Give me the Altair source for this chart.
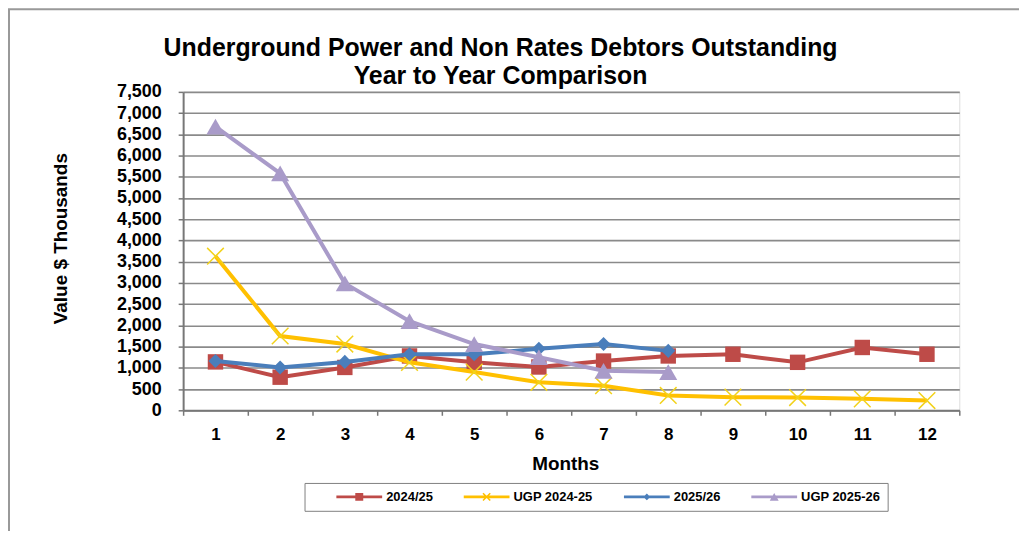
import altair as alt
import pandas as pd

# ---------------- data ----------------
months = list(range(1, 13))
series_names = ["2024/25", "UGP 2024-25", "2025/26", "UGP 2025-26"]
val_2024_25 = [1140, 780, 1010, 1280, 1130, 1020, 1160, 1280, 1320, 1130, 1480, 1320]
val_ugp_2024_25 = [3630, 1750, 1560, 1130, 900, 660, 580, 350, 310, 300, 270, 230]
val_2025_26 = [1160, 1010, 1140, 1320, 1320, 1450, 1560, 1400]
val_ugp_2025_26 = [6680, 5580, 2990, 2100, 1560, 1250, 930, 900]
y_ticks = list(range(0, 7501, 500))
x_ticks = [0.5 + 0.5 * i for i in range(25)]

title_lines = ["Underground Power and Non Rates Debtors Outstanding", "Year to Year Comparison"]

# ---------------- style ----------------
colors = ["#BE4B48", "#FFC000", "#4A7EBB", "#A99BC9"]
marker_colors = ["#BE4B48", "#F2D21B", "#4A7EBB", "#A99BC9"]
FONT = "Liberation Sans"

all_vals = [val_2024_25, val_ugp_2024_25, val_2025_26, val_ugp_2025_26]
rows = []
for i, (name, vals) in enumerate(zip(series_names, all_vals)):
    for m, v in zip(months, vals):
        rows.append({"month": m, "series": name, "value": v, "idx": i})
df = pd.DataFrame(rows)


def rect(x1, y1, x2, y2):
    return f"M{x1},{y1}H{x2}V{y2}H{x1}Z"


# legend symbol paths (units: sqrt(symbolSize)/2 px)
L0, L1, CX = 2.571, 9.143, 5.857
line_p = rect(L0, -0.214, L1, 0.214)
sq_p = rect(CX - 0.571, -0.571, CX + 0.571, 0.571)
dia_p = f"M{CX},-0.5L{CX + 0.5},0L{CX},0.5L{CX - 0.5},0Z"
tri_p = f"M{CX},-0.571L{CX + 0.643},0.571L{CX - 0.643},0.571Z"
s, t = 0.6, 0.16
x_p = (f"M{CX - s + t},{-s}L{CX + s},{s - t}L{CX + s - t},{s}L{CX - s},{-s + t}Z"
       f"M{CX - s + t},{s}L{CX - s},{s - t}L{CX + s - t},{-s}L{CX + s},{-s + t}Z")
legend_paths = [line_p + sq_p, line_p + x_p, line_p + dia_p, line_p + tri_p]

x_enc = alt.X(
    "month:Q",
    scale=alt.Scale(domain=[0.5, 12.5], nice=False, zero=False),
    axis=alt.Axis(
        values=x_ticks,
        labelExpr="datum.value % 1 == 0 ? format(datum.value, 'd') : ''",
        tickOpacity={"condition": {"test": "datum.value % 1 == 0", "value": 0}, "value": 1},
        labelFlush=False,
        labelOverlap=False,
        grid=False,
        tickSize=5,
        tickWidth=1.5,
        tickColor="#777777",
        domainColor="#777777",
        domainWidth=2,
        labelFont=FONT,
        labelFontSize=17,
        labelFontWeight="bold",
        labelColor="black",
        labelPadding=11,
        title="Months",
        titleFont=FONT,
        titleFontSize=19,
        titleFontWeight="bold",
        titleColor="black",
        titleX=384,
        titleY=59,
        titleBaseline="alphabetic",
    ),
)
y_enc = alt.Y(
    "value:Q",
    scale=alt.Scale(domain=[0, 7500], nice=False),
    axis=alt.Axis(
        values=y_ticks,
        labelExpr="format(datum.value, ',d')",
        grid=True,
        gridColor="#8A8A8A",
        gridWidth=1.6,
        tickSize=5,
        tickWidth=1.5,
        tickColor="#777777",
        domainColor="#777777",
        domainWidth=2,
        labelFont=FONT,
        labelFontSize=18,
        labelFontWeight="bold",
        labelColor="black",
        labelPadding=17,
        title="Value $ Thousands",
        titleFont=FONT,
        titleFontSize=19,
        titleFontWeight="bold",
        titleColor="black",
        titleX=-117,
        titleY=147,
        titleBaseline="alphabetic",
    ),
)

base = alt.Chart(df)
layers = []

frame = alt.Chart(pd.DataFrame({"a": [0]})).mark_rect(
    fillOpacity=0, stroke="#999999", strokeWidth=2
).encode(x=alt.value(-175), x2=alt.value(1100), y=alt.value(-83), y2=alt.value(700))
layers.append(frame)

marker_specs = [
    dict(shape="square", size=240, filled=True),
    dict(shape="M-1,-1L1,1M-1,1L1,-1", size=280, filled=False, strokeWidth=1.5),
    dict(shape="diamond", size=200, filled=True),
    dict(shape="triangle-up", size=330, filled=True),
]

for i, name in enumerate(series_names):
    sub = base.transform_filter(alt.datum.idx == i)
    layers.append(sub.mark_line(color=colors[i], strokeWidth=4).encode(x=x_enc, y=y_enc))
    spec = dict(marker_specs[i])
    filled = spec.pop("filled")
    if filled:
        pts = sub.mark_point(fill=marker_colors[i], filled=True, opacity=1, strokeWidth=0, **spec)
    else:
        pts = sub.mark_point(stroke=marker_colors[i], filled=False, opacity=1, **spec)
    layers.append(pts.encode(x=x_enc, y=y_enc))

legend = alt.Legend(
    title=None,
    orient="none",
    legendX=122,
    legendY=393,
    direction="horizontal",
    strokeColor="#808080",
    padding=7,
    columnPadding=6,
    symbolSize=196,
    symbolStrokeWidth=0,
    symbolOpacity=1,
    labelOffset=61,
    labelFont=FONT,
    labelFontSize=13,
    labelFontWeight="bold",
    labelColor="black",
)
legend_layer = base.transform_filter("false").mark_point(filled=True, opacity=1).encode(
    color=alt.Color("series:N", scale=alt.Scale(domain=series_names, range=colors), legend=legend),
    shape=alt.Shape("series:N", scale=alt.Scale(domain=series_names, range=legend_paths), legend=legend),
)
layers.append(legend_layer)

chart = alt.layer(*layers).properties(
    width=780,
    height=320,
    padding={"left": 176, "top": 83, "right": 60, "bottom": 120},
    autosize=alt.AutoSizeParams(type="none"),
    title=alt.TitleParams(
        text=title_lines,
        font=FONT,
        fontSize=25,
        fontWeight="bold",
        color="black",
        anchor="middle",
        frame="group",
        dx=-71,
        dy=81,
        lineHeight=28,
        offset=0,
    ),
).configure_view(strokeOpacity=0).configure(background="white")

chart.save("out.html", embed_options={"renderer": "svg", "actions": False})
